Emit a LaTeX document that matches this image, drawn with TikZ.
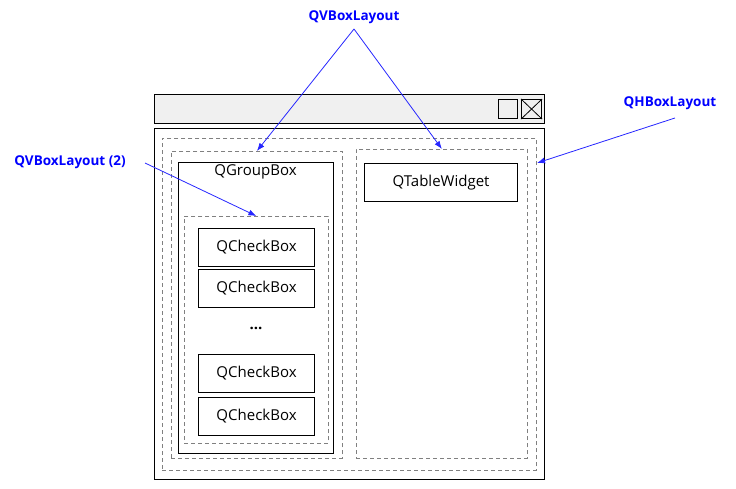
\documentclass[tikz,border=0pt]{standalone}
\usepackage{fontspec}
\setmainfont{Open Sans}
\usetikzlibrary{arrows.meta,calc}

\begin{document}
\begin{tikzpicture}[x=1pt,y=-1pt,
    solidbox/.style={draw, line width=1.1pt, anchor=north west, inner sep=0pt},
    dashbox/.style={draw=gray, line width=0.8pt, dash pattern=on 4pt off 3pt, anchor=north west, inner sep=0pt},
    widgettext/.style={font=\fontsize{15}{17}\selectfont},
    layoutlabel/.style={text=blue, font=\fontsize{13.5}{16}\selectfont\bfseries},
    pointer/.style={draw=blue!85!white, line width=0.8pt, -{Latex[length=8pt,width=6pt]}}]
  \useasboundingbox (0,0) rectangle (736,489);
  % Window frame with title bar and buttons.
  \node[solidbox, fill=gray!12, minimum width=390, minimum height=29] (titlebar) at (154,94) {};
  \node[solidbox, minimum width=19, minimum height=19] (btnmax) at (498,99) {};
  \node[solidbox, minimum width=20, minimum height=19] (btnclose) at (521,99) {};
  \draw[line width=0.8pt] (btnclose.north west) -- (btnclose.south east);
  \draw[line width=0.8pt] (btnclose.north east) -- (btnclose.south west);
  \node[solidbox, minimum width=390, minimum height=351] (win) at (154,128) {};
  % Layouts (dashed).
  \node[dashbox, minimum width=374, minimum height=332] (hbox) at (162,138) {};
  \node[dashbox, minimum width=171, minimum height=307] (leftvbox) at (171,151) {};
  \node[dashbox, minimum width=171, minimum height=309] (rightvbox) at (356,149) {};
  % Group box with its check boxes.
  \node[solidbox, minimum width=155, minimum height=291] (group) at (178,162) {};
  \node[widgettext] (grouptitle) at (255.5,172) {QGroupBox};
  \node[dashbox, minimum width=144, minimum height=227] (innervbox) at (184,216) {};
  \node[solidbox, minimum width=116, minimum height=38] (cb1) at (198,228) {};
  \node[widgettext] at (cb1.center) {QCheckBox};
  \node[solidbox, minimum width=116, minimum height=38] (cb2) at (198,269) {};
  \node[widgettext] at (cb2.center) {QCheckBox};
  \node[font=\fontsize{15}{17}\selectfont\bfseries] (dots) at (256,328) {...};
  \node[solidbox, minimum width=116, minimum height=38] (cb3) at (198,354) {};
  \node[widgettext] at (cb3.center) {QCheckBox};
  \node[solidbox, minimum width=116, minimum height=38] (cb4) at (198,397) {};
  \node[widgettext] at (cb4.center) {QCheckBox};
  % Table widget.
  \node[solidbox, minimum width=153, minimum height=38] (table) at (364,163) {};
  \node[widgettext] at (table.center) {QTableWidget};
  % Labels and pointers.
  \node[layoutlabel] (lblvbox) at (354,17) {QVBoxLayout};
  \node[layoutlabel] (lblhbox) at (670,103) {QHBoxLayout};
  \node[layoutlabel] (lblvboxtwo) at (70,162) {QVBoxLayout (2)};
  \coordinate (apex) at (354,29);
  \coordinate (hboxtip) at (537,163);
  \draw[pointer] (apex) -- (leftvbox.north);
  \draw[pointer] (apex) -- (rightvbox.north);
  \draw[pointer] (675,118) -- (hboxtip);
  \draw[pointer] (145,163) -- (innervbox.north);
\end{tikzpicture}
\end{document}
